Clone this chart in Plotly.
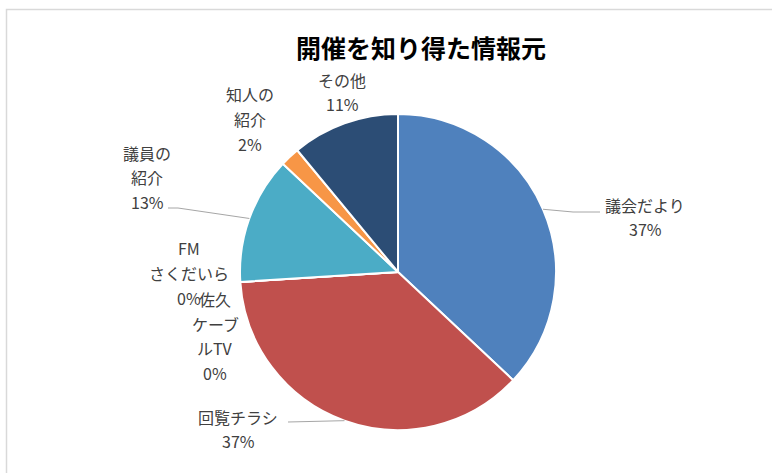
import math
import plotly.graph_objects as go

# ---- data ----
categories = ["議会だより", "回覧チラシ", "FMさくだいら", "佐久ケーブルTV", "議員の紹介", "知人の紹介", "その他"]
values = [37, 37, 0, 0, 13, 2, 11]
label_lines = [["議会だより"], ["回覧チラシ"], ["FM", "さくだいら"], ["佐久", "ケーブ", "ルTV"],
               ["議員の", "紹介"], ["知人の", "紹介"], ["その他"]]
colors = ["#4F81BD", "#C0504D", "#9BBB59", "#8064A2", "#4BACC6", "#F79646", "#2C4D75"]
title_text = "開催を知り得た情報元"

# ---- layout geometry (pixels) ----
W, H = 772, 473
CX, CY, R = 398, 272, 158
FONT = "Noto Sans CJK JP"
LABEL_COLOR = "#404040"
LABEL_SIZE = 16
LINE_H = 24.5

# label block centres (pixels)
label_pos = [(645, 217), (238, 429), (189, 273), (215, 336), (147, 177), (250, 119), (342, 92)]
# leader line elbows (pixels) per category, None = no leader line
leader_pts = [[(573, 212), (600, 212)], [(288, 422)], None, None, [(178, 208), (168, 208)], None, None]


def px(x):
    return x / W


def py(y):
    return 1 - y / H


fig = go.Figure()
fig.add_trace(go.Pie(
    labels=categories, values=values, sort=False, direction="clockwise", rotation=0,
    marker=dict(colors=colors, line=dict(color="white", width=2)),
    textinfo="none", hoverinfo="label+percent", showlegend=False,
    domain=dict(x=[px(CX - R), px(CX + R)], y=[py(CY + R), py(CY - R)]),
))

annotations = [dict(text="<b>" + title_text + "</b>", x=px(421), y=py(47), xref="paper", yref="paper",
                    showarrow=False, xanchor="center", yanchor="middle",
                    font=dict(family=FONT, size=25, color="#000000"))]
shapes = []
total = sum(values)
cum = 0
for i, v in enumerate(values):
    mid = (cum + v / 2) / total * 2 * math.pi
    cum += v
    lines = label_lines[i] + [f"{v}%"]
    lx, ly = label_pos[i]
    n = len(lines)
    for k, t in enumerate(lines):
        yk = ly + (k - (n - 1) / 2) * LINE_H
        annotations.append(dict(text=t, x=px(lx), y=py(yk), xref="paper", yref="paper",
                                showarrow=False, xanchor="center", yanchor="middle",
                                font=dict(family=FONT, size=LABEL_SIZE, color=LABEL_COLOR)))
    if leader_pts[i]:
        ex = CX + R * math.sin(mid)
        ey = CY - R * math.cos(mid)
        pts = [(ex, ey)] + leader_pts[i]
        path = "M " + " L ".join(f"{px(x)},{py(y)}" for x, y in pts)
        shapes.append(dict(type="path", path=path, xref="paper", yref="paper",
                           line=dict(color="#A6A6A6", width=1)))

# chart frame
shapes.append(dict(type="rect", x0=px(6.5), y0=py(9.5), x1=px(W + 20), y1=py(H + 20),
                   xref="paper", yref="paper", line=dict(color="#D9D9D9", width=1.5),
                   fillcolor="rgba(0,0,0,0)"))

fig.update_layout(
    width=W, height=H, margin=dict(l=0, r=0, t=0, b=0),
    paper_bgcolor="white", plot_bgcolor="white",
    annotations=annotations, shapes=shapes,
)
fig.write_html("out.html", config={"displayModeBar": False},
               post_script="document.body.style.margin='0';")
